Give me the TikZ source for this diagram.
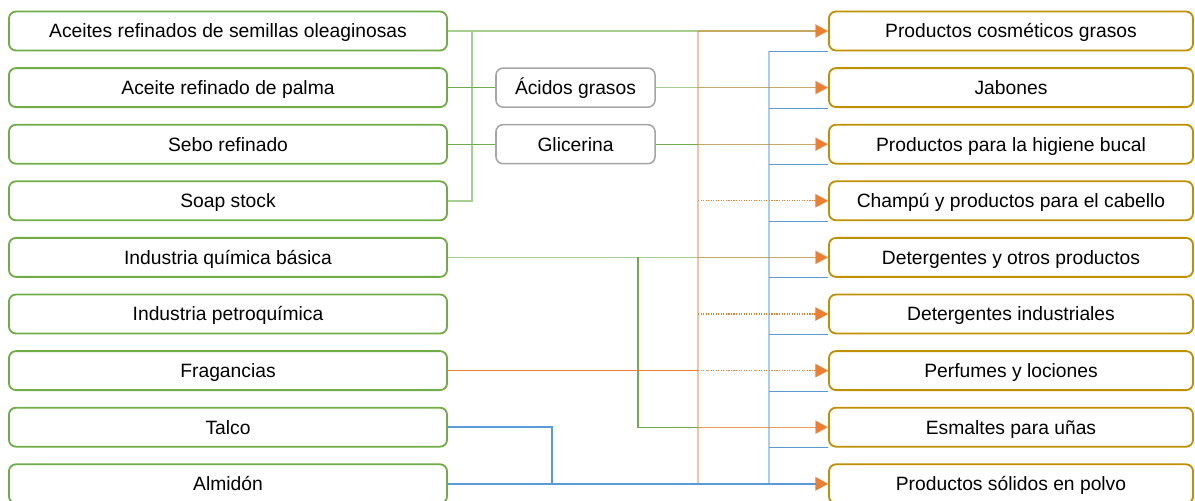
\documentclass[tikz,border=0pt]{standalone}
\usepackage{fontspec}
\setmainfont{Liberation Sans}
\usepackage{xcolor}
\definecolor{leafgreen}{HTML}{70AD47}
\definecolor{gold}{HTML}{BF9000}
\definecolor{midgrey}{HTML}{A5A5A5}
\definecolor{tangerine}{HTML}{ED7D31}
\definecolor{skyblue}{HTML}{5B9BD5}
\colorlet{tint}{leafgreen!45!tangerine}
\usetikzlibrary{arrows.meta}

\tikzset{
    anybox/.style={rounded corners=5pt, fill=white, line width=1.3pt,
        minimum height=0.975cm, inner sep=0pt,
        text height=9.8pt, text depth=0pt,
        font=\fontsize{13.7}{16}\selectfont},
    srcbox/.style={anybox, draw=leafgreen, minimum width=10.95cm},
    dstbox/.style={anybox, draw=gold, minimum width=9.1cm},
    midbox/.style={anybox, draw=midgrey, line width=1.1pt, minimum width=3.975cm},
    tip/.style={-{Triangle[length=9pt,width=9.5pt,fill=tangerine,color=tangerine]}},
    feed/.style={draw=leafgreen, line width=0.9pt},
    paler/.style={draw=leafgreen!60, line width=1pt},
    blend/.style={draw=tint, draw opacity=0.8, line width=0.9pt, tip},
    fine/.style={draw=tangerine, line width=0.8pt, densely dotted, tip},
    powder/.style={draw=skyblue, line width=1.6pt},
    branch/.style={draw=skyblue, line width=0.7pt}
}

\begin{document}
\begin{tikzpicture}
    [x=0.025cm, y=-0.025cm]
    \useasboundingbox (0,0) rectangle (1195,500);
    % raw materials
    \foreach \n/\y/\txt in {1/31/Aceites refinados de semillas oleaginosas,
        2/87.6/Aceite refinado de palma, 3/144.2/Sebo refinado,
        4/200.8/Soap stock, 5/257.4/Industria química básica,
        6/314/Industria petroquímica, 7/370.6/Fragancias,
        8/427.2/Talco, 9/483.8/Almidón}
        \node[srcbox] (src\n) at (228,\y) {\txt};
    % products
    \foreach \n/\y/\txt in {1/31/Productos cosméticos grasos,
        2/87.6/Jabones, 3/144.2/Productos para la higiene bucal,
        4/200.8/Champú y productos para el cabello,
        5/257.4/Detergentes y otros productos,
        6/314/Detergentes industriales, 7/370.6/Perfumes y lociones,
        8/427.2/Esmaltes para uñas, 9/483.8/Productos sólidos en polvo}
        \node[dstbox] (dst\n) at (1011,\y) {\txt};
    % intermediates
    \node[midbox] (acidos) at (575.5,87.6) {Ácidos grasos};
    \node[midbox] (glicerina) at (575.5,144.2) {Glicerina};

    % vertical buses
    \coordinate (gbus) at (472,0);
    \coordinate (qbus) at (638,0);
    \coordinate (tbus) at (552,0);
    \coordinate (obus) at (698,0);
    \coordinate (bbus) at (769,0);

    % green feeds
    \draw[paler] (src1.east) -- (src1.east -| obus);
    \draw[paler] (src1.east -| gbus) |- (src4.east);
    \draw[feed] (src2.east) -- (acidos.west);
    \draw[feed] (src3.east) -- (glicerina.west);
    \draw[paler] (acidos.east) -- (acidos.east -| obus);
    \draw[feed] (glicerina.east) -- (glicerina.east -| obus);
    \draw[paler] (src5.east) -- (src5.east -| obus);
    \draw[feed] (src5.east -| qbus) |- (dst8.west -| obus);

    % orange bus
    \draw[tangerine, opacity=0.45, line width=1.3pt]
        (src1.east -| obus) -- (src9.east -| obus);
    \draw[blend] (src1.east -| obus) -- (dst1.west);
    \draw[blend] (acidos.east -| obus) -- (dst2.west);
    \draw[blend] (glicerina.east -| obus) -- (dst3.west);
    \draw[fine] (dst4.west -| obus) -- (dst4.west);
    \draw[blend] (src5.east -| obus) -- (dst5.west);
    \draw[fine] (dst6.west -| obus) -- (dst6.west);
    \draw[tangerine, line width=0.9pt] (src7.east) -- (src7.east -| obus);
    \draw[fine] (src7.east -| obus) -- (dst7.west);
    \draw[tangerine, line width=0.9pt, draw opacity=0.8, tip] (dst8.west -| obus) -- (dst8.west);

    % blue bus
    \draw[powder] (src8.east) -| (src9.east -| tbus);
    \draw[powder, tip] (src9.east) -- (dst9.west);
    \draw[skyblue, opacity=0.5, line width=1.3pt]
        (src9.east -| bbus) -- (dst1.south west -| bbus);
    \foreach \n in {1,...,8}
        \draw[branch] (dst\n.south west -| bbus) -- (dst\n.south west);
\end{tikzpicture}
\end{document}
